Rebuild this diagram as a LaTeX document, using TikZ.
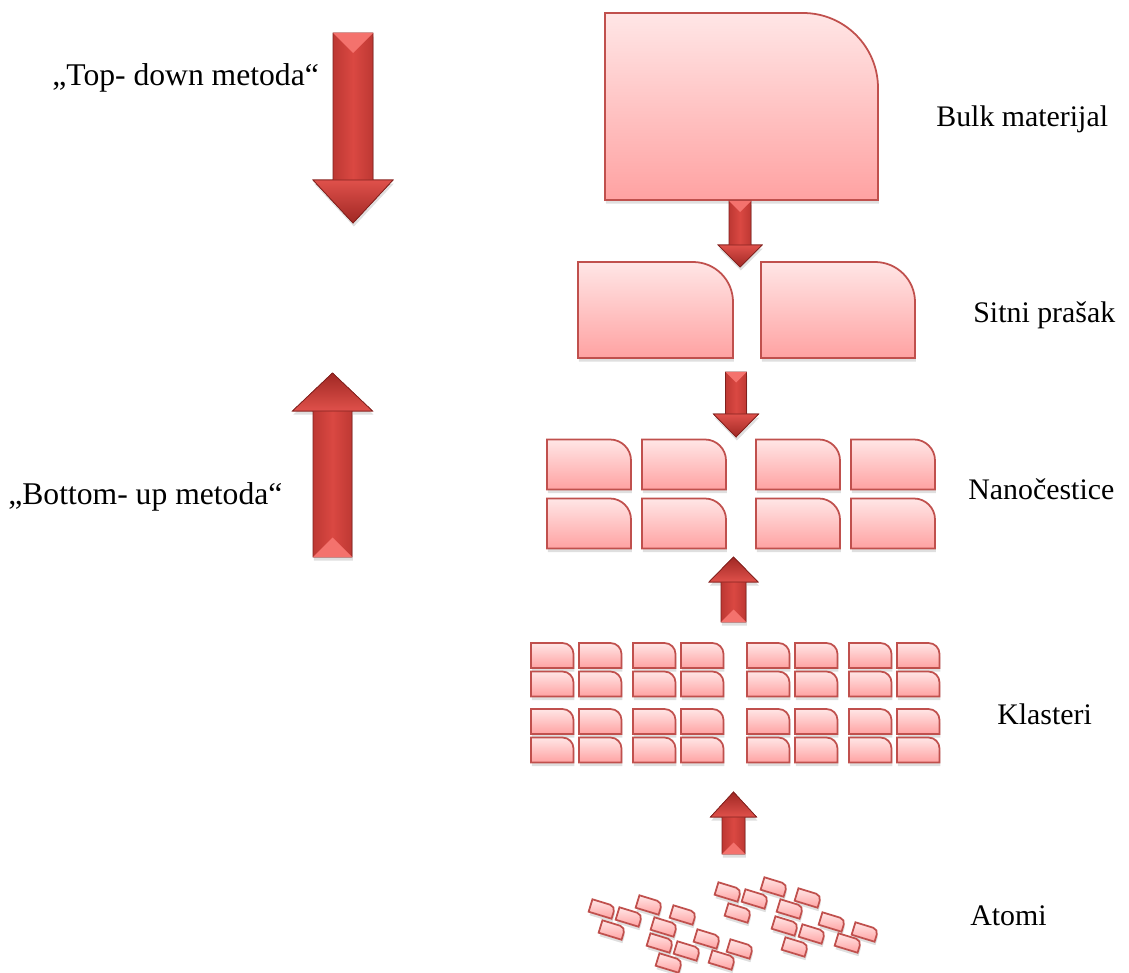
\documentclass[tikz,border=0pt]{standalone}
\usepackage{fontspec}
\setmainfont{Liberation Serif}
\usetikzlibrary{shadows}

\definecolor{rub}{HTML}{C0504D}
\definecolor{plocgore}{HTML}{FFE6E6}
\definecolor{plocdolje}{HTML}{FFA2A2}
\definecolor{strtamna}{HTML}{A02824}
\definecolor{strsrednja}{HTML}{DA4842}
\definecolor{strsvijetla}{HTML}{F4726D}

% x, y, sirina, visina, radijus
\newcommand{\kockica}[5]{%
  \path[ploca] (#1,#2+#4) -- (#1,#2) -- (#1+#3-#5,#2)
    .. controls (#1+#3-0.448*#5,#2) and (#1+#3,#2+0.448*#5) .. (#1+#3,#2+#5)
    -- (#1+#3,#2+#4) -- cycle;}

% x, rep, baza glave, vrh, pola drske, pola glave, kut
\newcommand{\strela}[7]{%
  \path[strelica] (#1-#5,#2) -- (#1-#5,#3) -- (#1-#6,#3) -- (#1,#4)
    -- (#1+#6,#3) -- (#1+#5,#3) -- (#1+#5,#2) -- cycle;
  \path[glava, shading angle=#7] (#1-#6,#3) -- (#1,#4) -- (#1+#6,#3) -- cycle;
  \fill[strsvijetla] (#1-#5,#2) -- (#1+#5,#2) -- (#1,{#2+sign(#4-#2)*#5}) -- cycle;}

\begin{document}
\begin{tikzpicture}[
x=0.02cm, y=-0.02cm,
ploca/.style={draw=rub, line width=1pt, top color=plocgore, bottom color=plocdolje,
  drop shadow={opacity=0.25, shadow xshift=0.5pt, shadow yshift=-2pt}},
strelica/.style={draw=strtamna!80!black, line width=0.4pt, left color=strtamna,
  right color=strtamna, middle color=strsrednja,
  drop shadow={opacity=0.25, shadow xshift=0.5pt, shadow yshift=-2pt}},
glava/.style={draw=strtamna!80!black, line width=0.4pt, top color=strsrednja!80!strsvijetla,
  bottom color=strtamna},
oznaka/.style={font=\fontsize{17pt}{20pt}\selectfont, inner sep=0pt, anchor=base west},
veca/.style={oznaka, font=\fontsize{18pt}{21pt}\selectfont},
]
\useasboundingbox (0,0) rectangle (1129,973);

\strela{353}{33}{180}{223}{20}{40}{0}
\strela{332.5}{557}{411}{373}{19.5}{40}{180}

\node[veca] (topdown) at (52,86) {„Top- down metoda“};
\node[veca] (bottomup) at (8,504) {„Bottom- up metoda“};

\kockica{605}{13}{273}{187}{75}

\strela{740}{201}{245}{267}{11}{22}{0}

\kockica{578}{262}{155}{96}{40}
\kockica{761}{262}{154}{96}{40}

\strela{736}{372}{414}{437}{10.5}{22.5}{0}

\foreach \nx in {547,642,756,851}
  \foreach \ny in {439.5,498.5}
    \kockica{\nx}{\ny}{84}{50}{21};

\strela{733.5}{622}{582}{557}{12.5}{24.5}{180}

\foreach \bx in {531,633,747,849}
  \foreach \by in {643,709}
    \foreach \dx in {0,48}
      \foreach \dy in {0,28.5}
        \kockica{\bx+\dx}{\by+\dy}{42.5}{25}{11};

\strela{733.5}{854}{817}{792}{11.5}{23}{180}

\foreach \ax/\ay in {602/909, 629/917, 612/930, 649/905, 683/915, 664/927,
  660/943, 707/939, 687/951, 740/949, 669/963, 722/960, 728/892, 755/899,
  738/913, 774/887, 808/898, 790/909, 785/926, 832/922, 812/934, 865/932,
  795/947, 848/943}
{
  \begin{scope}[shift={(\ax,\ay)}, rotate=-17]
    \kockica{-12}{-6.5}{24}{13}{5.5}
  \end{scope}
}

\node[oznaka] (bulk) at (936,127) {Bulk materijal};
\node[oznaka] (sitni) at (973,322) {Sitni prašak};
\node[oznaka] (nano) at (968,499) {Nanočestice};
\node[oznaka] (klasteri) at (997,724) {Klasteri};
\node[oznaka] (atomi) at (970,925) {Atomi};

\end{tikzpicture}
\end{document}
